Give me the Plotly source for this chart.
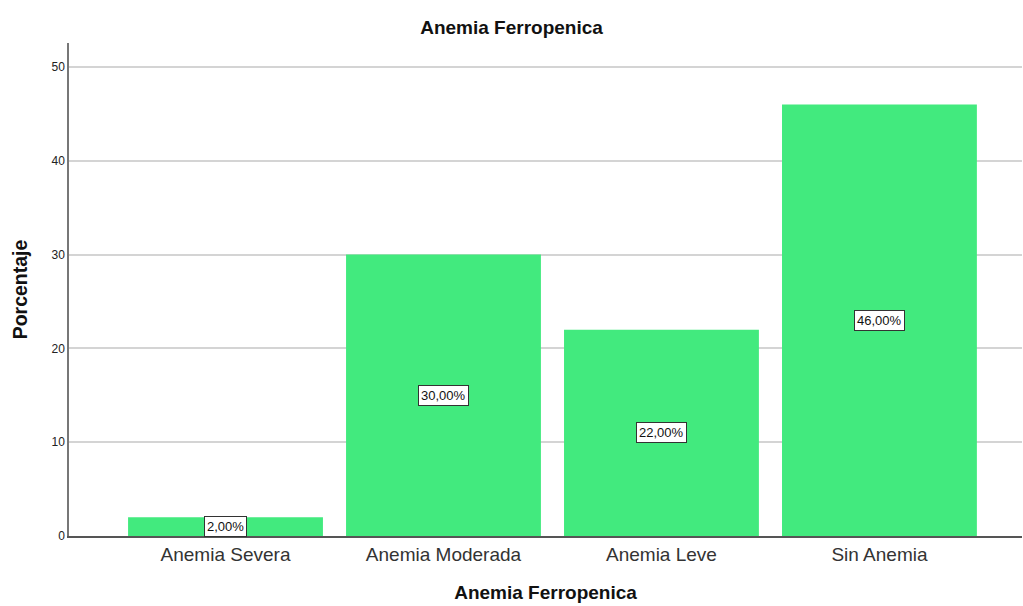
import plotly.graph_objects as go

categories = ["Anemia Severa", "Anemia Moderada", "Anemia Leve", "Sin Anemia"]
percentages = [2.0, 30.0, 22.0, 46.0]
y_ticks = [0, 10, 20, 30, 40, 50]

def fmt(v):
    return f"{v:.2f}".replace(".", ",") + "%"

FONT = "Liberation Sans, Arial, sans-serif"

fig = go.Figure()
fig.add_trace(go.Bar(
    x=categories, y=percentages, width=0.894,
    marker=dict(color="#42EA7E", line=dict(width=0)),
    hoverinfo="skip",
))

for c, v in zip(categories, percentages):
    fig.add_annotation(
        x=c, y=v / 2, text=fmt(v), showarrow=False,
        font=dict(family=FONT, size=13, color="#111111"),
        bgcolor="white", bordercolor="#333333", borderwidth=1, borderpad=2,
    )

fig.update_layout(
    width=1023, height=606,
    margin=dict(l=69, r=1, t=43, b=70),
    plot_bgcolor="white", paper_bgcolor="white",
    showlegend=False,
    font=dict(family=FONT, color="#222222"),
    title=dict(text="<b>Anemia Ferropenica</b>", x=0.5, xanchor="center",
               y=0.955, yanchor="middle", font=dict(size=19, color="#111111")),
)
fig.update_xaxes(
    type="category", range=[-0.718, 3.654], automargin=False,
    showline=True, linecolor="#555555", linewidth=1.5,
    showgrid=False, ticks="", tickfont=dict(size=19, color="#333333"),
    title=dict(text="<b>Anemia Ferropenica</b>", font=dict(size=19, color="#111111"), standoff=22),
)
fig.update_yaxes(
    range=[0, 52.56], tickvals=y_ticks, automargin=False,
    showline=True, linecolor="#777777", linewidth=1.5,
    showgrid=True, gridcolor="#D4D4D4", gridwidth=1.5,
    zeroline=False, ticks="", tickfont=dict(size=12, color="#222222"),
    title=dict(text="<b>Porcentaje</b>", font=dict(size=19.5, color="#111111"), standoff=19),
)

fig.write_html("out.html", config={"displayModeBar": False},
               post_script="document.body.style.margin='0';")
